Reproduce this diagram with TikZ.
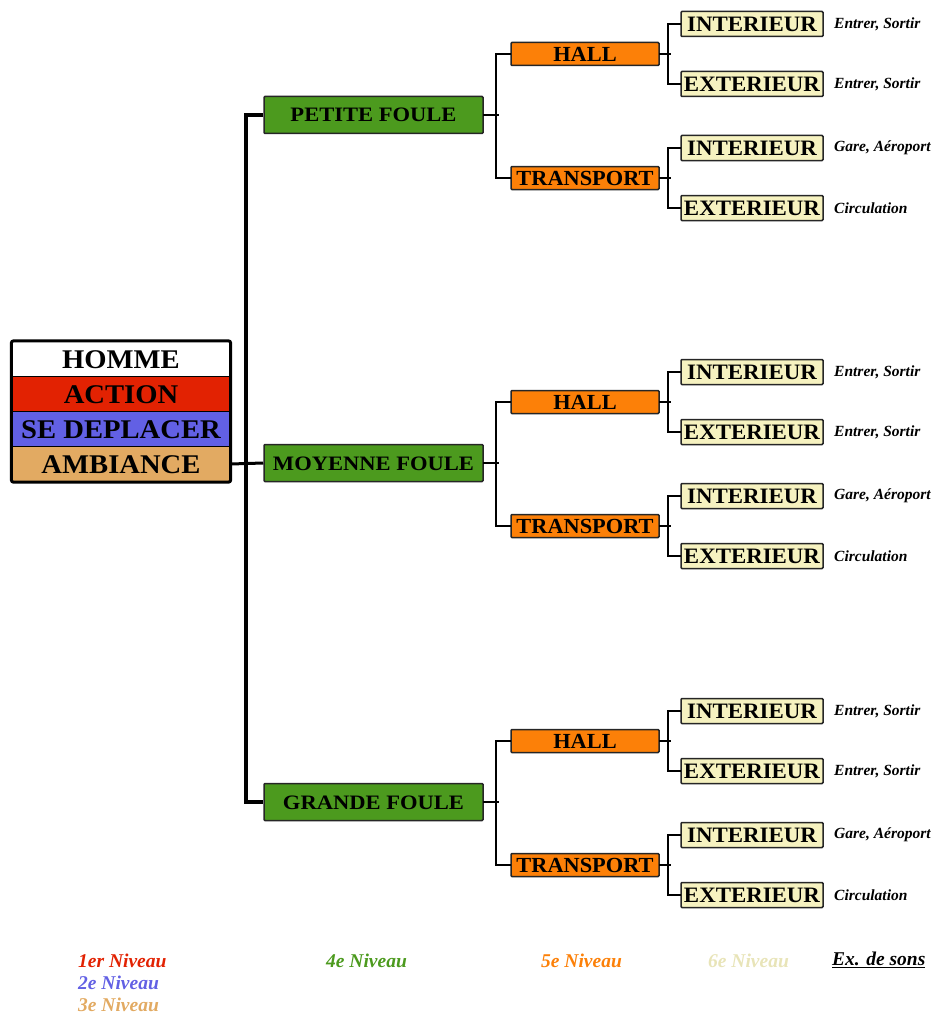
\documentclass[tikz,border=0pt]{standalone}
\usepackage{fontspec}
\setmainfont{Liberation Serif}
\newfontfamily\rootfont[FakeStretch=1.06]{Liberation Serif}
\newfontfamily\boxfont[FakeStretch=1.1]{Liberation Serif}
\newfontfamily\smallboxfont[FakeStretch=1.04]{Liberation Serif}
\definecolor{lvred}{RGB}{226,34,2}
\definecolor{lvblue}{RGB}{98,96,228}
\definecolor{lvtan}{RGB}{226,170,98}
\definecolor{lvgreen}{RGB}{76,154,30}
\definecolor{lvorange}{RGB}{252,128,8}
\definecolor{lvyellow}{RGB}{246,242,192}
\definecolor{lvpale}{RGB}{232,228,184}
\begin{document}
\begin{tikzpicture}[x=1pt,y=-1pt,
  rootrow/.style={minimum width=218pt, minimum height=35pt, inner sep=0pt,
    draw=black, line width=1.2pt,
    font=\rootfont\bfseries\fontsize{27}{27}\selectfont, text height=18pt, text depth=0pt},
  foule/.style={draw=black!85, fill=lvgreen, line width=1.5pt, rounded corners=1pt,
    minimum width=219pt, minimum height=37pt, inner sep=0pt,
    font=\boxfont\bfseries\fontsize{20.5}{20.5}\selectfont, text height=14pt, text depth=0pt},
  lieu/.style={draw=black!85, fill=lvorange, line width=1.5pt, rounded corners=1pt,
    minimum width=148pt, minimum height=23pt, inner sep=0pt,
    font=\smallboxfont\bfseries\fontsize{21.5}{21.5}\selectfont, text height=14.5pt, text depth=0pt},
  zone/.style={draw=black!85, fill=lvyellow, line width=1.5pt, rounded corners=1pt,
    minimum width=142pt, minimum height=25pt, inner sep=0pt,
    font=\smallboxfont\bfseries\fontsize{22}{22}\selectfont, text height=15pt, text depth=0pt},
  sons/.style={anchor=west, inner sep=0pt,
    font=\bfseries\itshape\fontsize{15.5}{15.5}\selectfont},
  legend/.style={anchor=west, inner sep=0pt,
    font=\bfseries\itshape\fontsize{19.5}{19.5}\selectfont},
  trunk/.style={line width=3.5pt, line join=miter},
  branch/.style={line width=2pt, line cap=rect}]
\useasboundingbox (0,0) rectangle (939,1014);

% root stack
\node[rootrow, fill=white]    (r1) at (121,359) {HOMME};
\node[rootrow, fill=lvred]    (r2) at (121,394) {ACTION};
\node[rootrow, fill=lvblue]   (r3) at (121,429) {SE DEPLACER};
\node[rootrow, fill=lvtan]    (r4) at (121,464) {AMBIANCE};
\draw[line width=3pt, rounded corners=2pt] (r1.north west) rectangle (r4.south east);

% three crowd sizes with their sub-trees
\foreach \n/\y/\t in {1/115/PETITE FOULE, 2/463/MOYENNE FOULE, 3/802/GRANDE FOULE}{
  \node[foule] (g\n) at (373.5,\y) {\t};
  \node[lieu] (h\n) at (585,\y-61) {HALL};
  \node[lieu] (t\n) at (585,\y+63) {TRANSPORT};
  \node[zone] (hi\n) at (752,\y-91) {INTERIEUR};
  \node[zone] (he\n) at (752,\y-31) {EXTERIEUR};
  \node[zone] (ti\n) at (752,\y+33) {INTERIEUR};
  \node[zone] (te\n) at (752,\y+93) {EXTERIEUR};
  \node[sons] (hix\n) at (834,\y-91) {Entrer, Sortir};
  \node[sons] (hex\n) at (834,\y-31) {Entrer, Sortir};
  \node[sons] (tix\n) at (834,\y+33) {Gare, Aéroport};
  \node[sons] (tex\n) at (834,\y+93) {Circulation};
  % green to orange
  \draw[branch] (g\n.east) -- ++(14,0);
  \draw[branch] (h\n.west) -- ++(-14,0) |- (t\n.west);
  % orange to yellow
  \draw[branch] (h\n.east) -- ++(10,0);
  \draw[branch] (hi\n.west) -- ++(-12,0) |- (he\n.west);
  \draw[branch] (t\n.east) -- ++(10,0);
  \draw[branch] (ti\n.west) -- ++(-12,0) |- (te\n.west);
}

% main trunk
\coordinate (tk) at (246,0);
\draw[trunk] (g1.west) -- (g1.west -| tk) -- (g3.west -| tk) -- (g3.west);
\draw[line width=3pt] (r4.east) -- (g2.west);

% legend
\node[legend, text=lvred]    (l1) at (78,961)  {1er Niveau};
\node[legend, text=lvblue]   (l2) at (78,983)  {2e Niveau};
\node[legend, text=lvtan]    (l3) at (78,1005) {3e Niveau};
\node[legend, text=lvgreen]  (l4) at (326,961) {4e Niveau};
\node[legend, text=lvorange] (l5) at (541,961) {5e Niveau};
\node[legend, text=lvpale]   (l6) at (708,961) {6e Niveau};
\node[legend, text=black]    (l7) at (832,960) {\underline{Ex. de sons}};
\end{tikzpicture}
\end{document}
